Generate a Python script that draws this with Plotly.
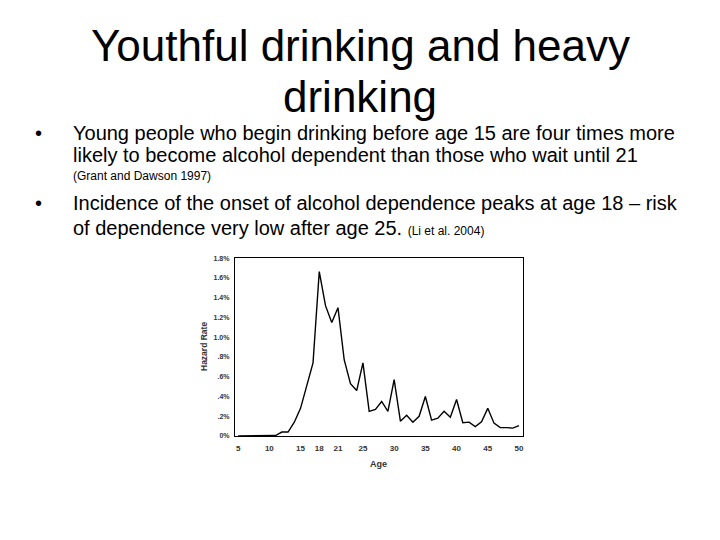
import plotly.graph_objects as go

# hazard rate (%) of onset of alcohol dependence by age (Li et al. 2004)
ages = list(range(5, 51))
hazard = [0.0, 0.0, 0.0, 0.005, 0.005, 0.0, 0.005, 0.04, 0.04, 0.14,
          0.28, 0.51, 0.74, 1.665, 1.32, 1.15, 1.30, 0.77, 0.53, 0.46,
          0.74, 0.25, 0.27, 0.35, 0.25, 0.57, 0.15, 0.21, 0.14, 0.20,
          0.40, 0.16, 0.18, 0.25, 0.19, 0.37, 0.135, 0.14, 0.095, 0.145,
          0.28, 0.13, 0.085, 0.085, 0.08, 0.105]

x_ticks = [5, 10, 15, 18, 21, 25, 30, 35, 40, 45, 50]
y_ticks = [0, 0.2, 0.4, 0.6, 0.8, 1.0, 1.2, 1.4, 1.6, 1.8]
y_labels = ["0%", ".2%", ".4%", ".6%", ".8%", "1.0%", "1.2%", "1.4%", "1.6%", "1.8%"]

title_lines = ["Youthful drinking and heavy", "drinking"]

FONT = "Liberation Sans, Arial, sans-serif"
TICKFONT = dict(size=8, color="#333", family="Liberation Sans")

fig = go.Figure()
fig.add_trace(go.Scatter(x=ages, y=hazard, mode="lines",
                         line=dict(color="black", width=1.4), showlegend=False))

fig.update_layout(
    width=720, height=540,
    margin=dict(l=0, r=0, t=0, b=0),
    paper_bgcolor="white", plot_bgcolor="white",
    font=dict(family=FONT, color="black"),
    xaxis=dict(domain=[0.3264, 0.726], range=[4.5, 50.6], tickvals=x_ticks,
               ticktext=["<b>%d</b>" % v for v in x_ticks],
               showgrid=False, zeroline=False, showline=True, mirror=True,
               linecolor="black", linewidth=1.2, ticks="", automargin=False,
               tickfont=TICKFONT, ticklabelstandoff=4),
    yaxis=dict(domain=[0.1926, 0.5217], range=[0, 1.8], tickvals=y_ticks,
               ticktext=["<b>%s</b>" % t for t in y_labels], showgrid=False,
               zeroline=False, showline=True, mirror=True, linecolor="black",
               linewidth=1.2, ticks="", automargin=False,
               tickfont=dict(TICKFONT, size=7), ticklabelstandoff=3),
)

ann = []
# slide title
ann.append(dict(x=0.5, y=1 - 45 / 540, text=title_lines[0], font=dict(size=44)))
ann.append(dict(x=0.5, y=1 - 96 / 540, text=title_lines[1], font=dict(size=44)))

# bullets
body = [
    (72, 133, "Young people who begin drinking before age 15 are four times more", 20),
    (72, 155, "likely to become alcohol dependent than those who wait until 21", 20),
    (72, 176, "(Grant and Dawson 1997)", 12),
    (72, 203, "Incidence of the onset of alcohol dependence peaks at age 18 \u2013 risk", 20),
    (72, 228, "of dependence very low after age 25. <span style='font-size:12px'>(Li et al. 2004)</span>", 20),
]
for x, y, t, s in body:
    ann.append(dict(x=x / 720, y=1 - y / 540, text=t, xanchor="left",
                    font=dict(size=s)))
for y in [133, 203]:
    ann.append(dict(x=38 / 720, y=1 - y / 540, text="\u2022", font=dict(size=20)))

# axis titles
ann.append(dict(x=204 / 720, y=1 - 347 / 540, text="<b>Hazard Rate</b>", textangle=-90,
                font=dict(size=8.5, color="#333")))
ann.append(dict(x=378 / 720, y=1 - 464 / 540, text="<b>Age</b>",
                font=dict(size=9, color="#333")))

for a in ann:
    a.setdefault("xanchor", "center")
    a.update(xref="paper", yref="paper", yanchor="middle", showarrow=False,
             borderpad=0)

fig.update_layout(annotations=ann)
# drop the browser's default body margin so the figure sits at the page corner
fig.write_html("out.html", config={"displayModeBar": False},
               post_script="document.body.style.margin='0';")
